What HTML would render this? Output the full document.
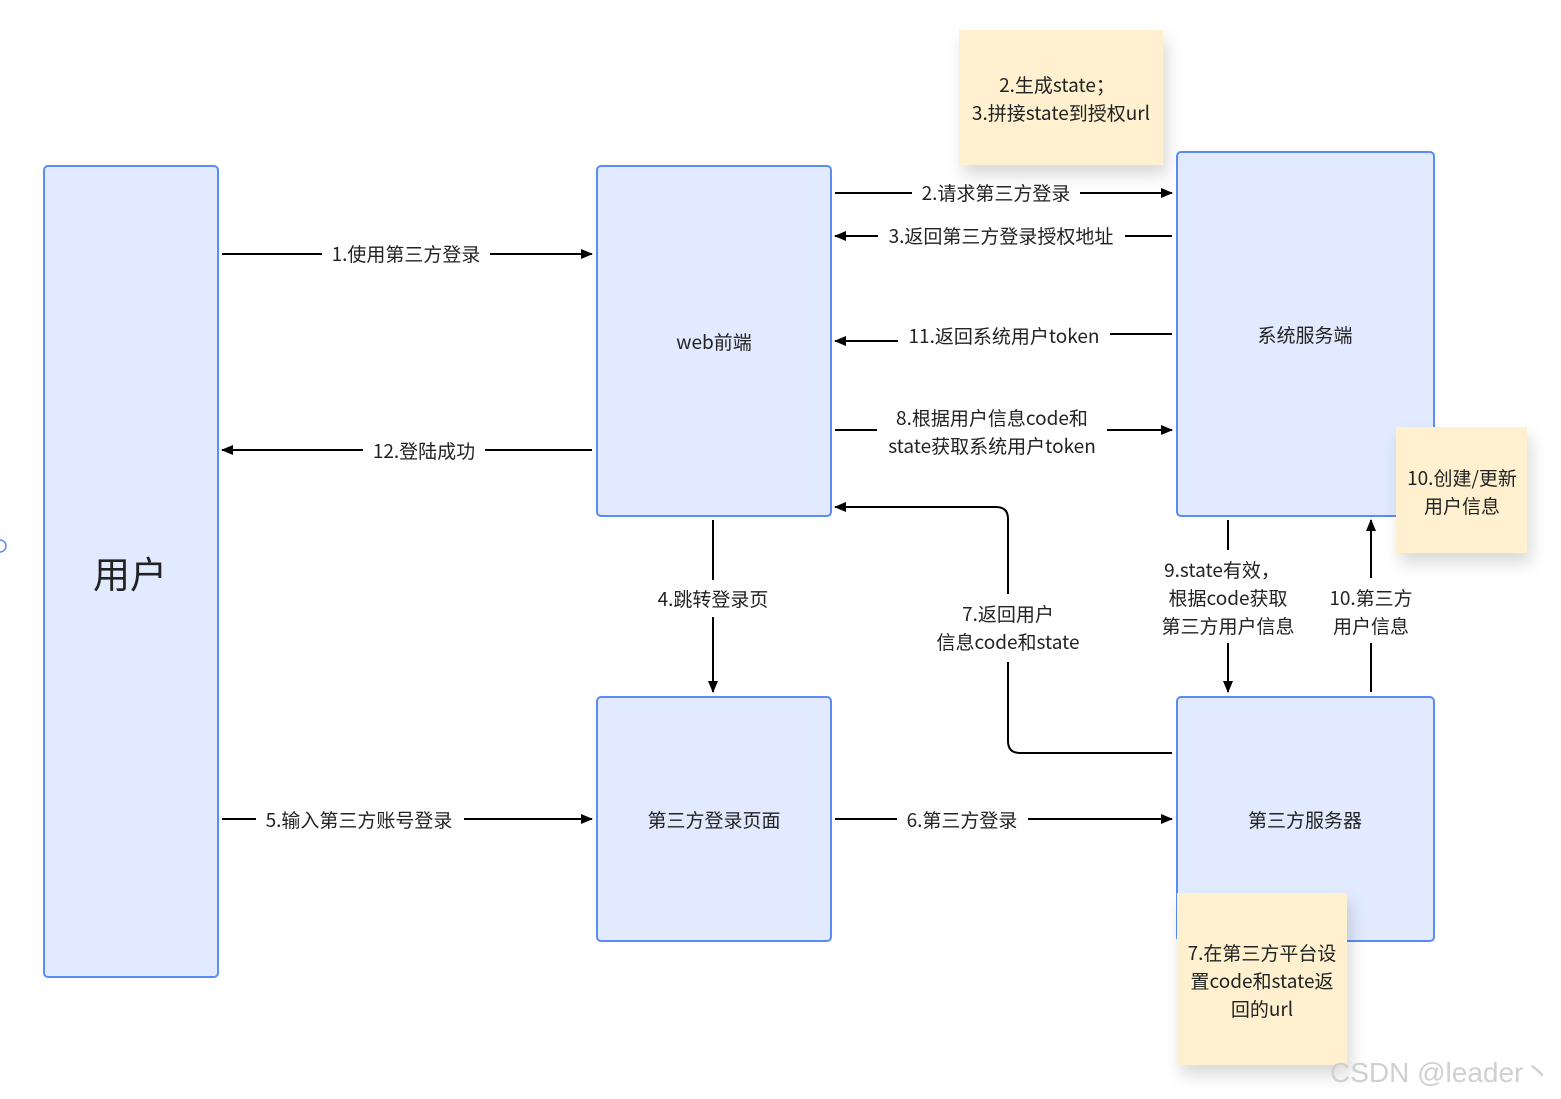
<!DOCTYPE html>
<html><head><meta charset="utf-8"><style>
html,body{margin:0;padding:0;background:#fff;}
svg{display:block;}
text{font-family:"Noto Sans CJK SC","Liberation Sans",sans-serif;fill:#222;font-size:19px;}
</style></head><body>
<svg width="1561" height="1099" viewBox="0 0 1561 1099" xmlns="http://www.w3.org/2000/svg">
<defs>
<marker id="a" markerWidth="12" markerHeight="12" refX="11" refY="6" orient="auto" markerUnits="userSpaceOnUse"><path d="M0,1 L12,6 L0,11 z" fill="#000"/></marker>
<filter id="sh" x="-20%" y="-20%" width="140%" height="150%"><feDropShadow dx="4" dy="10" stdDeviation="8" flood-color="#000" flood-opacity="0.15"/></filter>
</defs>
<circle cx="0" cy="546" r="6" fill="none" stroke="#5b8bf5" stroke-width="1.5"/>
<g fill="#e1eafe" stroke="#5b8bf5" stroke-width="2">
<rect x="44" y="166" width="174" height="811" rx="4"/>
<rect x="597" y="166" width="234" height="350" rx="4"/>
<rect x="1177" y="152" width="257" height="364" rx="4"/>
<rect x="597" y="697" width="234" height="244" rx="4"/>
<rect x="1177" y="697" width="257" height="244" rx="4"/>
</g>
<g text-anchor="middle">
<text x="130" y="588" style="font-size:37px">用户</text>
<text x="714" y="349">web前端</text>
<text x="1305" y="342">系统服务端</text>
<text x="714" y="827">第三方登录页面</text>
<text x="1305" y="827">第三方服务器</text>
</g>
<g stroke="#000" stroke-width="2" fill="none">
<path d="M222,254 H322"/><path d="M490,254 H592" marker-end="url(#a)"/>
<path d="M835,193 H912"/><path d="M1080,193 H1172" marker-end="url(#a)"/>
<path d="M1172,236 H1125"/><path d="M878,236 H835" marker-end="url(#a)"/>
<path d="M1172,334 H1110"/><path d="M898,341 H835" marker-end="url(#a)"/>
<path d="M835,430 H877"/><path d="M1107,430 H1172" marker-end="url(#a)"/>
<path d="M592,450 H485"/><path d="M363,450 H222" marker-end="url(#a)"/>
<path d="M713,520 V580"/><path d="M713,617 V692" marker-end="url(#a)"/>
<path d="M1172,753 H1020 Q1008,753 1008,741 V662"/><path d="M1008,594 V519 Q1008,507 996,507 H835" marker-end="url(#a)"/>
<path d="M1228,520 V550"/><path d="M1228,643 V692" marker-end="url(#a)"/>
<path d="M1371,692 V643"/><path d="M1371,578 V520" marker-end="url(#a)"/>
<path d="M222,819 H256"/><path d="M464,819 H592" marker-end="url(#a)"/>
<path d="M835,819 H897"/><path d="M1028,819 H1172" marker-end="url(#a)"/>
</g>
<g text-anchor="middle">
<text x="406" y="261">1.使用第三方登录</text>
<text x="996" y="200">2.请求第三方登录</text>
<text x="1001" y="243">3.返回第三方登录授权地址</text>
<text x="1004" y="343">11.返回系统用户token</text>
<text x="992" y="425">8.根据用户信息code和</text>
<text x="992" y="453">state获取系统用户token</text>
<text x="424" y="458">12.登陆成功</text>
<text x="713" y="606">4.跳转登录页</text>
<text x="1008" y="621">7.返回用户</text>
<text x="1008" y="649">信息code和state</text>
<text x="1222" y="577">9.state有效，</text>
<text x="1228" y="605">根据code获取</text>
<text x="1228" y="633">第三方用户信息</text>
<text x="1371" y="605">10.第三方</text>
<text x="1371" y="633">用户信息</text>
<text x="359" y="827">5.输入第三方账号登录</text>
<text x="962" y="827">6.第三方登录</text>
</g>
<g fill="#fff1cf" filter="url(#sh)">
<rect x="959" y="30" width="204" height="135"/>
<rect x="1396" y="427" width="131" height="126"/>
<rect x="1177" y="893" width="170" height="172"/>
</g>
<g text-anchor="middle">
<text x="1057" y="92">2.生成state；</text>
<text x="1061" y="120">3.拼接state到授权url</text>
<text x="1462" y="485">10.创建/更新</text>
<text x="1462" y="513">用户信息</text>
<text x="1262" y="960">7.在第三方平台设</text>
<text x="1262" y="988">置code和state返</text>
<text x="1262" y="1016">回的url</text>
</g>
<text x="1330" y="1082" style="font-family:'Liberation Sans','Noto Sans CJK SC',sans-serif;font-size:28px;fill:#d0d0d0">CSDN @leader丶</text>
</svg>
</body></html>
